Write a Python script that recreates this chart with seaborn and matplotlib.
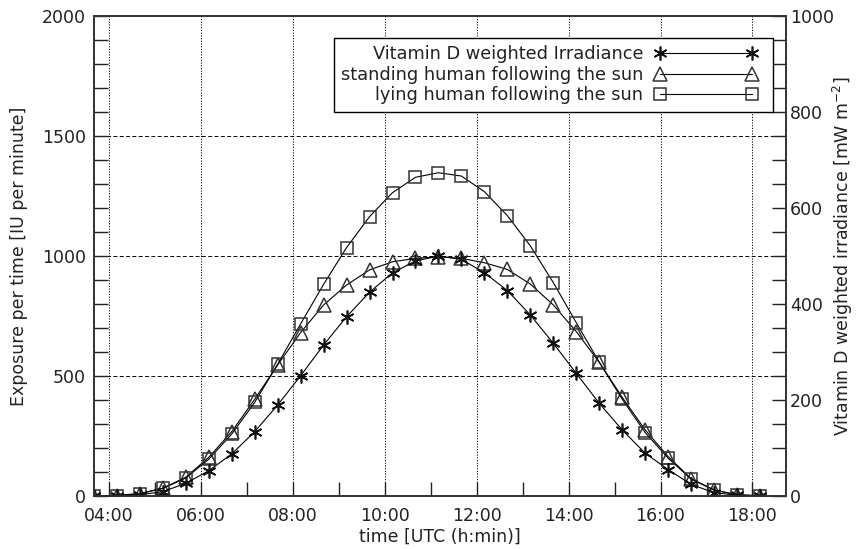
import numpy as np
import pandas as pd
import matplotlib
matplotlib.use("Agg")
import matplotlib.pyplot as plt
from matplotlib.ticker import MultipleLocator, FixedLocator
from matplotlib.legend_handler import HandlerLine2D
import seaborn as sns

# ---------------- data ----------------
times = ["03:40", "04:10", "04:40", "05:10", "05:40", "06:10", "06:40", "07:10",
         "07:40", "08:10", "08:40", "09:10", "09:40", "10:10", "10:40", "11:10",
         "11:40", "12:10", "12:40", "13:10", "13:40", "14:10", "14:40", "15:10",
         "15:40", "16:10", "16:40", "17:10", "17:40", "18:10"]

# Vitamin D weighted irradiance [mW m^-2] (right axis)
irradiance = [0, 0.5, 2.5, 9, 26.5, 52.5, 87.5, 134, 189.5, 250.5, 314.5, 373.5,
              424.5, 465, 489.5, 500, 493, 465, 428, 377, 318, 255.5, 193, 137.5,
              89, 55, 24, 7, 1.5, 0]

# Exposure per time [IU per minute] (left axis)
standing = [0, 2, 10, 32, 78, 161, 268, 403, 546, 681, 796, 879, 942, 976, 990,
            997, 990, 972, 944, 883, 796, 685, 557, 411, 275, 164, 72, 25, 5, 1]
lying = [0, 2, 10, 32, 75, 153, 258, 390, 549, 717, 882, 1035, 1164, 1264, 1328,
         1347, 1333, 1268, 1168, 1042, 889, 722, 557, 403, 264, 157, 70, 25, 5, 1]

xtick_labels = ["04:00", "06:00", "08:00", "10:00", "12:00", "14:00", "16:00", "18:00"]
series_labels = ["Vitamin D weighted Irradiance",
                 "standing human following the sun",
                 "lying human following the sun"]


def to_hours(s):
    h, m = s.split(":")
    return int(h) + int(m) / 60.0


hours = [to_hours(t) for t in times]
xticks = [to_hours(t) for t in xtick_labels]

df = pd.DataFrame({"hour": hours, "irr": irradiance,
                   "standing": standing, "lying": lying})

# ---------------- style ----------------
sns.set_style("ticks")
plt.rcParams["font.family"] = ["DejaVu Sans"]
TXT = "#222222"
plt.rcParams["text.color"] = TXT
plt.rcParams["axes.labelcolor"] = TXT
plt.rcParams["xtick.color"] = TXT
plt.rcParams["ytick.color"] = TXT
FS = 12.5
FS_LEG = 12.75

fig = plt.figure(figsize=(8.59, 5.49), dpi=100)
ax = fig.add_axes([94 / 859, 1 - 496 / 549, (786 - 94) / 859, (496 - 16) / 549])
ax2 = ax.twinx()

MEC = "#333333"
line_kw = dict(color="black", linewidth=0.8, markerfacecolor="none",
               markeredgecolor=MEC, markeredgewidth=1.1)

sns.lineplot(data=df, x="hour", y="standing", ax=ax, marker="^", markersize=9.5,
             label=series_labels[1], legend=False, **line_kw)
sns.lineplot(data=df, x="hour", y="lying", ax=ax, marker="s", markersize=8,
             label=series_labels[2], legend=False, **line_kw)
sns.lineplot(data=df, x="hour", y="irr", ax=ax2, marker=(6, 2, 0), markersize=10,
             label=series_labels[0], legend=False, color="black", linewidth=0.8,
             markeredgecolor="#111111", markeredgewidth=1.2)

# axes limits
ax.set_xlim(3.67, 18.73)
ax.set_ylim(0, 2000)
ax2.set_ylim(0, 1000)

# ticks
ax.xaxis.set_major_locator(FixedLocator(xticks))
ax.set_xticklabels(xtick_labels)
ax.xaxis.set_minor_locator(MultipleLocator(1))
ax.yaxis.set_major_locator(MultipleLocator(500))
ax.yaxis.set_minor_locator(MultipleLocator(100))
ax2.yaxis.set_major_locator(MultipleLocator(200))
ax2.yaxis.set_minor_locator(MultipleLocator(50))

for a in (ax, ax2):
    a.tick_params(which="both", direction="in", length=10, width=1.0,
                  labelsize=FS, colors=TXT)
ax.tick_params(axis="x", which="both", top=False, bottom=True, pad=8)
ax.tick_params(axis="y", which="both", left=True, right=False, pad=6)
ax2.tick_params(axis="y", which="both", right=True, left=False, pad=3)

# grid: dotted verticals, dashed horizontals
for xv in xticks:
    ax.axvline(xv, color="black", linestyle=(0, (1.2, 1.6)), linewidth=0.7, zorder=0)
for yv in [500, 1000, 1500]:
    ax.axhline(yv, color="black", linestyle=(0, (4, 2.5)), linewidth=0.7, zorder=0)

for a in (ax, ax2):
    for sp in a.spines.values():
        sp.set_color("#333333")
        sp.set_linewidth(1.2)

ax.set_xlabel("time [UTC (h:min)]", fontsize=FS, labelpad=2)
ax.set_ylabel("Exposure per time [IU per minute]", fontsize=FS, labelpad=10)
ax2.set_ylabel("Vitamin D weighted irradiance [mW m$^{-2}$]", fontsize=FS,
               labelpad=-2, rotation=90)

# legend (markers on the right, text right-aligned)
h1, l1 = ax2.get_legend_handles_labels()
h0, l0 = ax.get_legend_handles_labels()
handler = HandlerLine2D(marker_pad=0.75, numpoints=2)
leg = ax2.legend(h1 + h0, l1 + l0, loc="upper right",
                 bbox_to_anchor=(0.981, 0.954), borderaxespad=0,
                 markerfirst=False, numpoints=2, handlelength=6.7,
                 handletextpad=0.23, labelspacing=0.15, borderpad=0.4,
                 fancybox=False, framealpha=1, edgecolor="black",
                 fontsize=FS_LEG,
                 handler_map={h: handler for h in h1 + h0})
leg.get_frame().set_linewidth(1.0)

fig.savefig("out.png", dpi=100)
